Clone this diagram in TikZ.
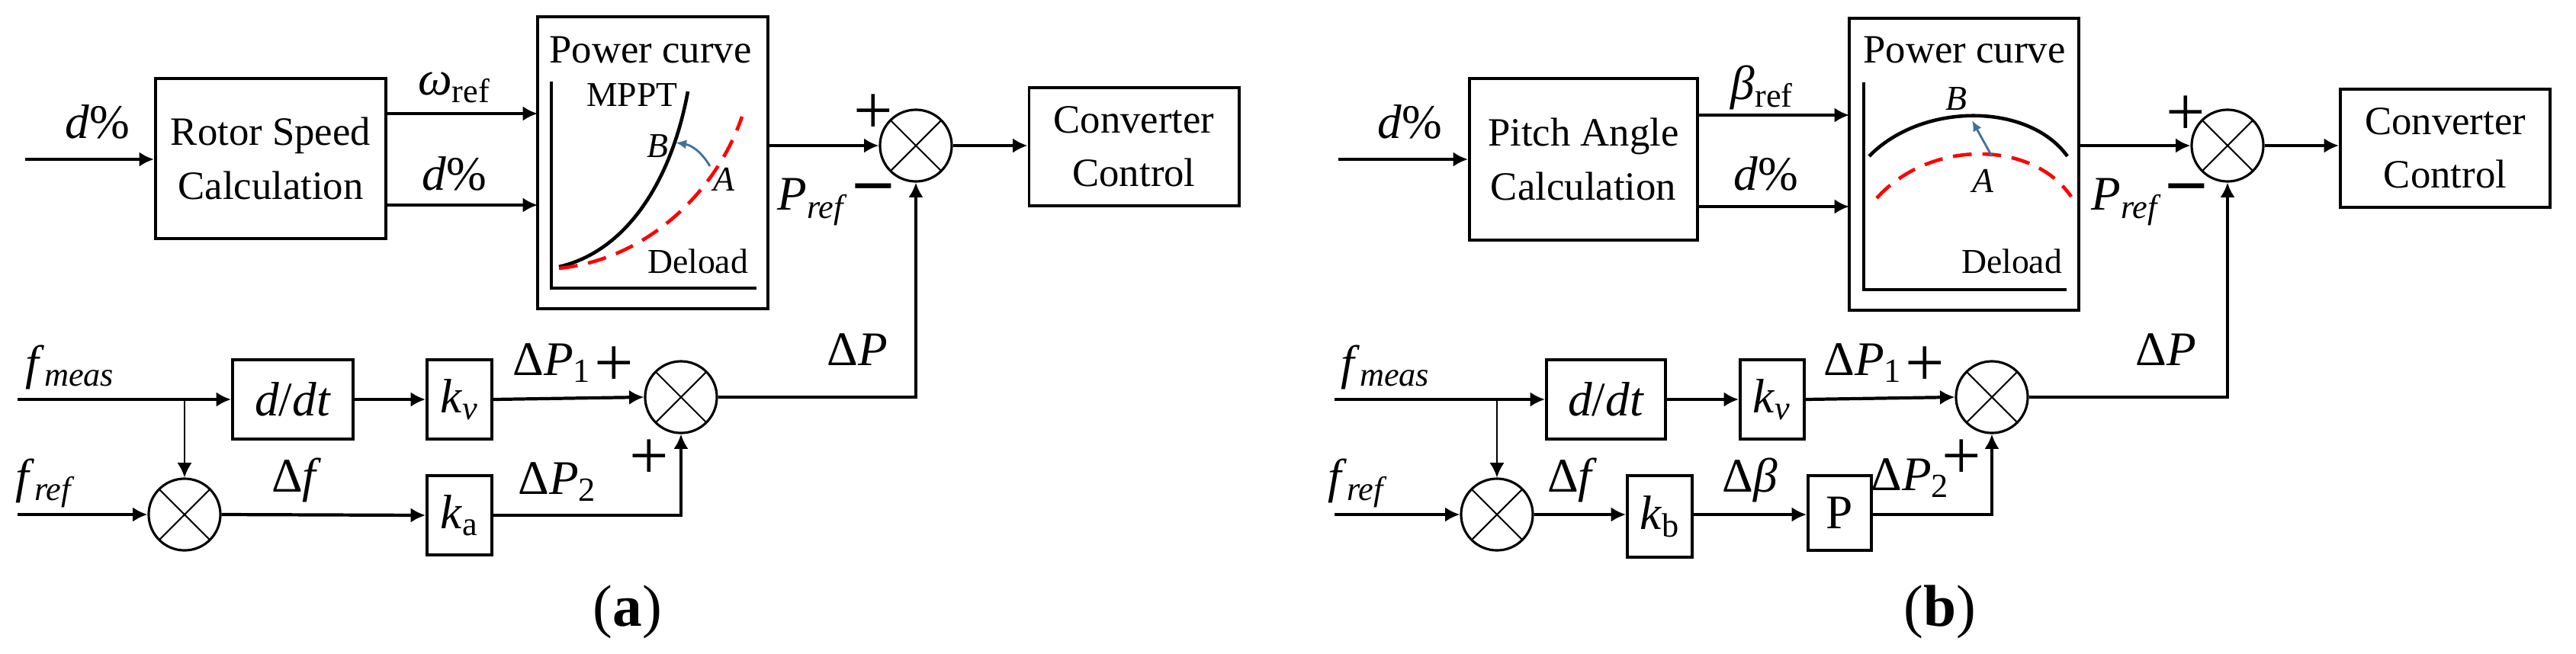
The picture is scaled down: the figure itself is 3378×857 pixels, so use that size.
\documentclass[tikz,border=0pt]{standalone}
\usepackage{fontspec}
\setmainfont{Liberation Serif}
\usetikzlibrary{arrows.meta}
\begin{document}
\begin{tikzpicture}[x=0.01cm,y=-0.01cm,
  blk/.style={draw,line width=1.1pt,inner sep=0pt,font=\fontsize{15}{17}\selectfont,align=center},
  lbl/.style={inner sep=0pt,font=\fontsize{18}{20}\selectfont},
  sml/.style={inner sep=0pt,font=\fontsize{13}{15}\selectfont},
  sgn/.style={inner sep=0pt,font=\fontsize{26}{26}\selectfont},
  capt/.style={inner sep=0pt,font=\fontsize{22}{24}\selectfont},
  sum/.style={draw,circle,line width=0.9pt,minimum size=0.94cm,inner sep=0pt,
    path picture={\draw[line width=0.6pt] (path picture bounding box.north west)--(path picture bounding box.south east)
      (path picture bounding box.north east)--(path picture bounding box.south west);}},
  ar/.style={line width=1.2pt,-{Latex[length=5.5pt,width=5.5pt]}},
  ln/.style={line width=1pt}]
\useasboundingbox (0,0) rectangle (3378,857);
%================ (a) ================
\coordinate (ain) at (33,209);
\node[blk,minimum width=3.02cm,minimum height=2.1cm] (rsc) at (355,208) {Rotor Speed\\[3pt]Calculation};
\node[lbl] (ad1) at (128,160) {\textit{d}\%};
\node[draw,line width=1.1pt,minimum width=3.02cm,minimum height=3.83cm,inner sep=0pt] (apc) at (856,213.5) {};
\node[inner sep=0pt,font=\fontsize{15}{17}\selectfont] (apct) at (853,65) {Power curve};
\node[lbl] (awr) at (596,115) {\textit{ω}\textsubscript{ref}};
\node[lbl] (ad2) at (596,228) {\textit{d}\%};
\coordinate (aw1) at (705,149);
\coordinate (aw2) at (705,269);
\draw[ar] (ain) -- (rsc.west|-ain);
\draw[ar] (rsc.east|-aw1) -- (aw1);
\draw[ar] (rsc.east|-aw2) -- (aw2);
% axes
\coordinate (aax) at (723,107);
\coordinate (aay) at (723,378);
\coordinate (aaz) at (992,378);
\draw[line width=1pt] (aax) -- (aay) -- (aaz);
\node[sml] (ampt) at (829,125) {MPPT};
\node[sml] (adl) at (915,343) {Deload};
\node[sml] (aB) at (862,192) {\textit{B}};
\node[sml] (aA) at (950,235) {\textit{A}};
\draw[line width=1.3pt] (733,350) .. controls (820,330) and (880,240) .. (902,120);
\draw[line width=1.3pt,red,dashed,dash pattern=on 7pt off 4pt] (733,352) .. controls (850,340) and (940,250) .. (973,153);
\draw[line width=0.8pt,color={rgb,255:red,65;green,113;blue,156},-{Latex[length=4pt,width=3.5pt]}] (931,218) to[bend right=25] (886,187);
% sum 1
\node[sum] (as1) at (1201,191) {};
\draw[ar] (apc.east|-as1) -- (as1.west);
\node[sgn] (ap1) at (1145,150) {+};
\node[sgn] (am1) at (1146,253) {\textbf{–}};
\node[lbl] (apref) at (1066,265) {\textit{P}\textsubscript{\textit{ref}}};
\node[blk,minimum width=2.75cm,minimum height=1.55cm] (acc) at (1487,192.5) {Converter\\[3pt]Control};
\draw[ar] (as1.east) -- (acc.west|-as1);
% lower
\coordinate (afm) at (23,524);
\node[lbl] (afml) at (92,482) {\textit{f}\textsubscript{\textit{meas}}};
\node[blk,minimum width=1.58cm,minimum height=1.04cm,font=\fontsize{18}{20}\selectfont] (addt) at (384,524) {\textit{d}/\textit{dt}};
\node[blk,minimum width=0.85cm,minimum height=1.04cm,font=\fontsize{18}{20}\selectfont] (akv) at (602.5,524) {\textit{k}\textsubscript{\textit{v}}};
\node[sum] (as2) at (893,521) {};
\coordinate (abr) at (242,524);
\draw[ar] (afm) -- (addt.west);
\draw[ar] (addt.east) -- (akv.west);
\draw[ar] (akv.east) -- (as2.west);
\node[lbl] (adp1) at (724,476) {Δ\textit{P}\textsubscript{1}};
\node[sgn] (ap2) at (805,481) {+};
\draw[ar,line width=1pt] (as2.east) -| (as1.south);
\node[lbl] (adp) at (1124,459) {Δ\textit{P}};
\node[sum] (as3) at (242,675) {};
\draw[ar,line width=0.8pt] (abr) -- (as3.north);
\coordinate (afr) at (23,675);
\node[lbl] (afrl) at (60,634) {\textit{f}\textsubscript{\textit{ref}}};
\draw[ar] (afr) -- (as3.west);
\node[blk,minimum width=0.85cm,minimum height=1.04cm,font=\fontsize{18}{20}\selectfont] (aka) at (602.5,676) {\textit{k}\textsubscript{a}};
\draw[ar] (as3.east) -- (aka.west);
\node[lbl] (adf) at (389,630) {Δ\textit{f}};
\draw[ar,line width=1pt] (aka.east) -| (as2.south);
\node[lbl] (adp2) at (731,632) {Δ\textit{P}\textsubscript{2}};
\node[sgn] (ap3) at (851,603) {+};
\node[capt] (acap) at (823,803) {(\textbf{a})};
%================ (b) ================
\coordinate (bin) at (1755,209);
\node[blk,minimum width=2.99cm,minimum height=2.12cm] (pac) at (2076.5,209) {Pitch Angle\\[3pt]Calculation};
\node[lbl] (bd1) at (1849,160) {\textit{d}\%};
\node[draw,line width=1.1pt,minimum width=3.01cm,minimum height=3.83cm,inner sep=0pt] (bpc) at (2575.5,215.5) {};
\node[inner sep=0pt,font=\fontsize{15}{17}\selectfont] (bpct) at (2576,65) {Power curve};
\node[lbl] (bbr) at (2311,115) {\textit{β}\textsubscript{ref}};
\node[lbl] (bd2) at (2316,228) {\textit{d}\%};
\coordinate (bw1) at (2425,151);
\coordinate (bw2) at (2425,271);
\draw[ar] (bin) -- (pac.west|-bin);
\draw[ar] (pac.east|-bw1) -- (bw1);
\draw[ar] (pac.east|-bw2) -- (bw2);
\coordinate (bax) at (2444,108);
\coordinate (bay) at (2444,380);
\coordinate (baz) at (2710,380);
\draw[line width=1pt] (bax) -- (bay) -- (baz);
\node[sml] (bdl) at (2638,343) {Deload};
\node[sml] (bB) at (2565,130) {\textit{B}};
\node[sml] (bA) at (2601,237) {\textit{A}};
\draw[line width=1.3pt] (2451,205) .. controls (2520,134) and (2660,134) .. (2711,205);
\draw[line width=1.3pt,red,dashed,dash pattern=on 7pt off 4pt] (2461,260) .. controls (2530,183) and (2665,183) .. (2716,258);
\draw[line width=0.8pt,color={rgb,255:red,65;green,113;blue,156},-{Latex[length=4pt,width=3.5pt]}] (2612,205) -- (2586,158);
\node[sum] (bs1) at (2921,191) {};
\draw[ar] (bpc.east|-bs1) -- (bs1.west);
\node[sgn] (bp1) at (2866,152) {+};
\node[sgn] (bm1) at (2868,253) {\textbf{–}};
\node[lbl] (bpref) at (2789,265) {\textit{P}\textsubscript{\textit{ref}}};
\node[blk,minimum width=2.75cm,minimum height=1.55cm] (bcc) at (3206.5,194.5) {Converter\\[3pt]Control};
\draw[ar] (bs1.east) -- (bcc.west|-bs1);
\coordinate (bfm) at (1750,524);
\node[lbl] (bfml) at (1817,482) {\textit{f}\textsubscript{\textit{meas}}};
\node[blk,minimum width=1.56cm,minimum height=1.04cm,font=\fontsize{18}{20}\selectfont] (bddt) at (2106,524) {\textit{d}/\textit{dt}};
\node[blk,minimum width=0.84cm,minimum height=1.04cm,font=\fontsize{18}{20}\selectfont] (bkv) at (2324,524) {\textit{k}\textsubscript{\textit{v}}};
\node[sum] (bs2) at (2612,521) {};
\coordinate (bbrn) at (1963,524);
\draw[ar] (bfm) -- (bddt.west);
\draw[ar] (bddt.east) -- (bkv.west);
\draw[ar] (bkv.east) -- (bs2.west);
\node[lbl] (bdp1) at (2443,476) {Δ\textit{P}\textsubscript{1}};
\node[sgn] (bp2) at (2524,481) {+};
\draw[ar,line width=1pt] (bs2.east) -| (bs1.south);
\node[lbl] (bdp) at (2840,459) {Δ\textit{P}};
\node[sum] (bs3) at (1963,675) {};
\draw[ar,line width=0.8pt] (bbrn) -- (bs3.north);
\coordinate (bfr) at (1750,675);
\node[lbl] (bfrl) at (1781,634) {\textit{f}\textsubscript{\textit{ref}}};
\draw[ar] (bfr) -- (bs3.west);
\node[blk,minimum width=0.85cm,minimum height=1.07cm,font=\fontsize{18}{20}\selectfont] (bkb) at (2176.5,677.5) {\textit{k}\textsubscript{b}};
\draw[ar] (bs3.east) -- (bkb.west|-bs3);
\node[lbl] (bdf) at (2062,630) {Δ\textit{f}};
\node[blk,minimum width=0.83cm,minimum height=0.98cm,font=\fontsize{18}{20}\selectfont] (bP) at (2412.5,673) {P};
\draw[ar] (bkb.east|-bs3) -- (bP.west|-bs3);
\node[lbl] (bdb) at (2295,630) {Δ\textit{β}};
\draw[ar,line width=1pt] (bP.east|-bs3) -| (bs2.south);
\node[lbl] (bdp2) at (2505,627) {Δ\textit{P}\textsubscript{2}};
\node[sgn] (bp3) at (2572,603) {+};
\node[capt] (bcap) at (2544,803) {(\textbf{b})};
\end{tikzpicture}
\end{document}
